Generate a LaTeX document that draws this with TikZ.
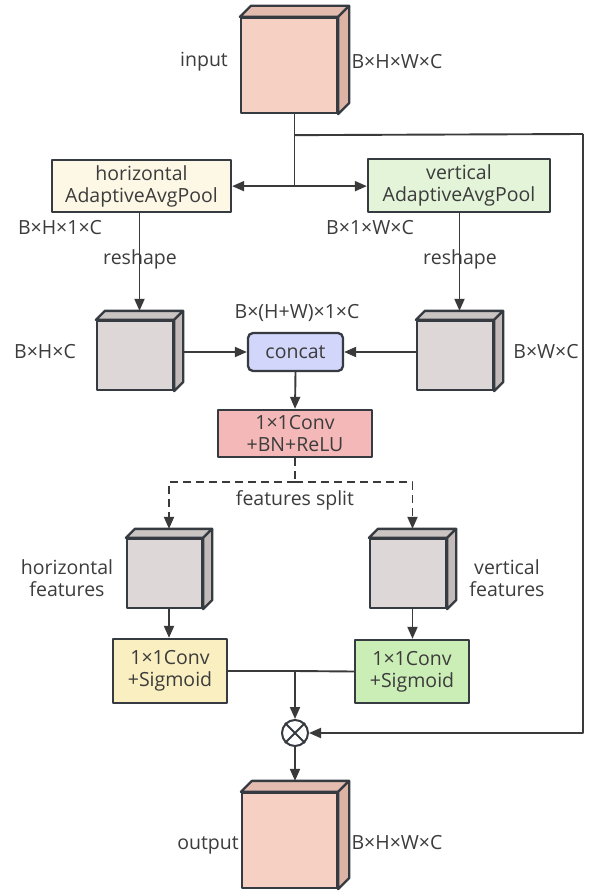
\documentclass[tikz,border=0pt]{standalone}
\usepackage{fontspec}
\setmainfont{Open Sans}
\usetikzlibrary{arrows.meta,calc}

\definecolor{edgec}{HTML}{363B41}
\definecolor{linec}{HTML}{3A3A3A}
\definecolor{textc}{HTML}{3C3C3C}
\definecolor{pinkfront}{HTML}{F5D0C3}
\definecolor{pinktop}{HTML}{E4BCAF}
\definecolor{pinkside}{HTML}{DDB3A6}
\definecolor{grayfront}{HTML}{DDD8D7}
\definecolor{graytop}{HTML}{CAC4C3}
\definecolor{grayside}{HTML}{C2BBBA}
\definecolor{poolh}{HTML}{FDF8E6}
\definecolor{poolv}{HTML}{E3F4D9}
\definecolor{concatc}{HTML}{D2D6FA}
\definecolor{convc}{HTML}{F4B8B8}
\definecolor{sigh}{HTML}{F9EFC0}
\definecolor{sigv}{HTML}{CBEDB6}

% top (#3) and side (#4) faces of a prism whose front face is node #1, depth #2
\newcommand\prismfaces[4]{%
  \draw[faceedge, fill=#3] (#1.north west) -- ++(#2,-#2)
     -- ($(#1.north east)+(#2,-#2)$) -- (#1.north east) -- cycle;
  \draw[faceedge, fill=#4] (#1.north east) -- ++(#2,-#2)
     -- ($(#1.south east)+(#2,-#2)$) -- (#1.south east) -- cycle;
  \coordinate (#1-top) at ($(#1.north)+(#2/2,-#2)$);
  \coordinate (#1-bot) at ($(#1.south)+(#2/2,0)$);
  \coordinate (#1-right) at ($(#1.east)+(#2,-#2/2)$);
}

\begin{document}
\begin{tikzpicture}[x=1pt,y=-1pt,
  font=\fontsize{19.5pt}{22pt}\selectfont, text=textc,
  line join=round,
  box/.style={draw=edgec, line width=2.3pt, align=center, inner sep=0pt},
  front/.style={draw=edgec, line width=2.3pt, inner sep=0pt},
  faceedge/.style={draw=edgec, line width=2.3pt},
  ln/.style={draw=linec, line width=1.9pt},
  arr/.style={ln, -{Triangle[length=12pt,width=10pt]}},
  dsh/.style={ln, dash pattern=on 8pt off 5pt},
  lbl/.style={align=center, inner sep=0pt}
]
\useasboundingbox (0,0) rectangle (596,893);

% input / output tensors
\node[front, fill=pinkfront, minimum width=96pt, minimum height=95pt] (in) at (289,65.5) {};
\prismfaces{in}{11}{pinktop}{pinkside}
\node[front, fill=pinkfront, minimum width=95pt, minimum height=95pt] (out) at (289.5,840.5) {};
\prismfaces{out}{11}{pinktop}{pinkside}

% pooling branches
\node[box, fill=poolh, minimum width=179pt, minimum height=52pt] (hp) at (141.5,186) {horizontal\\AdaptiveAvgPool};
\node[box, fill=poolv, minimum width=182pt, minimum height=53pt] (vp) at (459,185.5) {vertical\\AdaptiveAvgPool};

% reshaped tensors
\node[front, fill=grayfront, minimum width=76pt, minimum height=69pt] (hl) at (135,355.5) {};
\prismfaces{hl}{9}{graytop}{grayside}
\node[front, fill=grayfront, minimum width=76pt, minimum height=69pt] (hr) at (455,355.5) {};
\prismfaces{hr}{9}{graytop}{grayside}

\node[box, fill=concatc, rounded corners=5pt, minimum width=95pt, minimum height=38pt] (cat) at (295.5,352) {concat};
\node[box, fill=convc, minimum width=154pt, minimum height=47pt] (conv) at (295,433.5) {1×1Conv\\+BN+ReLU};

% split features
\node[front, fill=grayfront, minimum width=75pt, minimum height=69pt] (fl) at (164.5,573.5) {};
\prismfaces{fl}{9}{graytop}{grayside}
\node[front, fill=grayfront, minimum width=76pt, minimum height=69pt] (fr) at (408,573.5) {};
\prismfaces{fr}{9}{graytop}{grayside}

\node[box, fill=sigh, minimum width=114pt, minimum height=64pt] (sl) at (170,671) {1×1Conv\\+Sigmoid};
\node[box, fill=sigv, minimum width=114pt, minimum height=63pt] (sr) at (412,671.5) {1×1Conv\\+Sigmoid};

\node[circle, draw=edgec, line width=2pt, minimum size=26pt, inner sep=0pt] (mul) at (295,733) {};
\draw[edgec, line width=1.8pt] (mul.north west) -- (mul.south east) (mul.north east) -- (mul.south west);

% labels
\node[lbl] (tin) at (204,62) {input};
\node[lbl] (sin) at (397,62) {B×H×W×C};
\node[lbl] (sh1) at (60,228) {B×H×1×C};
\node[lbl] (rh) at (140,259) {reshape};
\node[lbl] (sv1) at (370,228) {B×1×W×C};
\node[lbl] (rv) at (460,259) {reshape};
\node[lbl] (shc) at (45,352) {B×H×C};
\node[lbl] (swc) at (546,352) {B×W×C};
\node[lbl] (scat) at (297,313) {B×(H+W)×1×C};
\node[lbl] (tsplit) at (295,500) {features split};
\node[lbl] (thf) at (67,578) {horizontal\\features};
\node[lbl] (tvf) at (507,578) {vertical\\features};
\node[lbl] (tout) at (208,845) {output};
\node[lbl] (sout) at (397,843) {B×H×W×C};

% connectors
\coordinate (fork) at ($(in-bot)+(0,72)$);
\coordinate (tap) at ($(in-bot)+(0,21)$);
\coordinate (rim) at (583,134);
\draw[ln] (in-bot) -- (fork);
\draw[arr] (fork) -- (fork -| hp.east);
\draw[arr] (fork) -- (fork -| vp.west);
\draw[ln] (tap) -- (rim);
\draw[arr] (rim) -- (rim |- mul) -- (mul.east);

\draw[arr] (hp.south -| hl-top) -- (hl-top);
\draw[arr] (vp.south -| hr-top) -- (hr-top);
\draw[arr] (hl-right |- cat.west) -- (cat.west);
\draw[arr] (hr.west |- cat.east) -- (cat.east);
\draw[arr] (cat.south) -- (conv.north);

\coordinate (split) at ($(conv.south)+(0,24)$);
\draw[dsh] (conv.south) -- (split);
\draw[dsh, -{Triangle[length=12pt,width=10pt]}] (split) -- (split -| fl-top) -- (fl-top);
\draw[dsh, -{Triangle[length=12pt,width=10pt]}] (split) -- (split -| fr-top) -- (fr-top);

\draw[arr] (fl-bot) -- (fl-bot |- sl.north);
\draw[arr] (fr-bot) -- (fr-bot |- sr.north);

\coordinate (join) at (mul |- sl.east);
\draw[ln] (sl.east) -- (join);
\draw[ln] (sr.west) -- (join);
\draw[arr] (join) -- (mul.north);
\draw[arr] (mul.south) -- (out-top);
\end{tikzpicture}
\end{document}
